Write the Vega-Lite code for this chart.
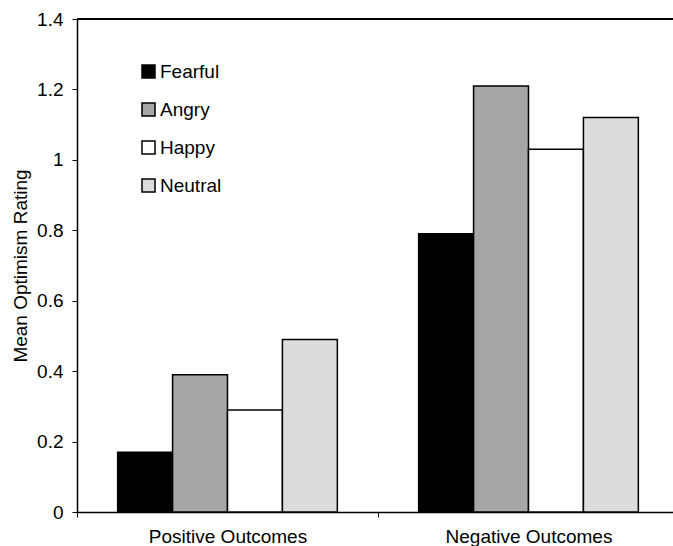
{
  "$schema": "https://vega.github.io/schema/vega-lite/v6.json",
  "width": 596,
  "height": 493,
  "autosize": {"type": "none"},
  "padding": {"left": 77, "top": 19, "right": 0, "bottom": 34},
  "background": "white",
  "config": {"font": "Liberation Sans", "view": {"stroke": null}},
  "data": {
    "values": [
      {"outcome": "Positive Outcomes", "emotion": "Fearful", "rating": 0.17},
      {"outcome": "Positive Outcomes", "emotion": "Angry", "rating": 0.39},
      {"outcome": "Positive Outcomes", "emotion": "Happy", "rating": 0.29},
      {"outcome": "Positive Outcomes", "emotion": "Neutral", "rating": 0.49},
      {"outcome": "Negative Outcomes", "emotion": "Fearful", "rating": 0.79},
      {"outcome": "Negative Outcomes", "emotion": "Angry", "rating": 1.21},
      {"outcome": "Negative Outcomes", "emotion": "Happy", "rating": 1.03},
      {"outcome": "Negative Outcomes", "emotion": "Neutral", "rating": 1.12}
    ]
  },
  "layer": [
    {
      "mark": {"type": "bar", "stroke": "black", "strokeWidth": 1.5},
      "encoding": {
        "x": {
          "field": "outcome",
          "type": "nominal",
          "sort": ["Positive Outcomes", "Negative Outcomes"],
          "scale": {"range": [0, 602], "paddingInner": 0, "paddingOuter": 0},
          "axis": {
            "title": null,
            "labelAngle": 0,
            "labelFontSize": 19,
            "labelColor": "black",
            "tickBand": "extent",
            "tickColor": "black",
            "tickSize": 5,
            "tickWidth": 1,
            "domainColor": "black",
            "domainWidth": 1.5,
            "labelPadding": 10
          }
        },
        "xOffset": {
          "field": "emotion",
          "type": "nominal",
          "sort": ["Fearful", "Angry", "Happy", "Neutral"],
          "scale": {"paddingInner": 0, "paddingOuter": 0.74}
        },
        "y": {
          "field": "rating",
          "type": "quantitative",
          "scale": {"domain": [0, 1.4], "nice": false},
          "axis": {
            "title": "Mean Optimism Rating",
            "titleFontSize": 19,
            "titleFontWeight": "normal",
            "titleColor": "black",
            "titlePadding": 6,
            "values": [0, 0.2, 0.4, 0.6, 0.8, 1, 1.2, 1.4],
            "format": "~g",
            "grid": false,
            "labelFontSize": 19,
            "labelColor": "black",
            "labelPadding": 9,
            "tickSize": 5,
            "tickColor": "black",
            "tickWidth": 1,
            "domainColor": "black",
            "domainWidth": 1.5
          }
        },
        "fill": {
          "field": "emotion",
          "type": "nominal",
          "scale": {
            "domain": ["Fearful", "Angry", "Happy", "Neutral"],
            "range": ["#000000", "#a6a6a6", "#ffffff", "#dcdcdc"]
          },
          "legend": {
            "orient": "none",
            "legendX": 62,
            "legendY": 43,
            "title": null,
            "padding": 0,
            "symbolType": "square",
            "symbolSize": 169,
            "symbolStrokeColor": "black",
            "symbolStrokeWidth": 1.5,
            "labelFontSize": 19,
            "labelColor": "black",
            "labelOffset": 2,
            "rowPadding": 18
          }
        }
      }
    },
    {
      "mark": {"type": "rule", "stroke": "black", "strokeWidth": 2},
      "encoding": {"y": {"datum": 1.4}}
    }
  ]
}
